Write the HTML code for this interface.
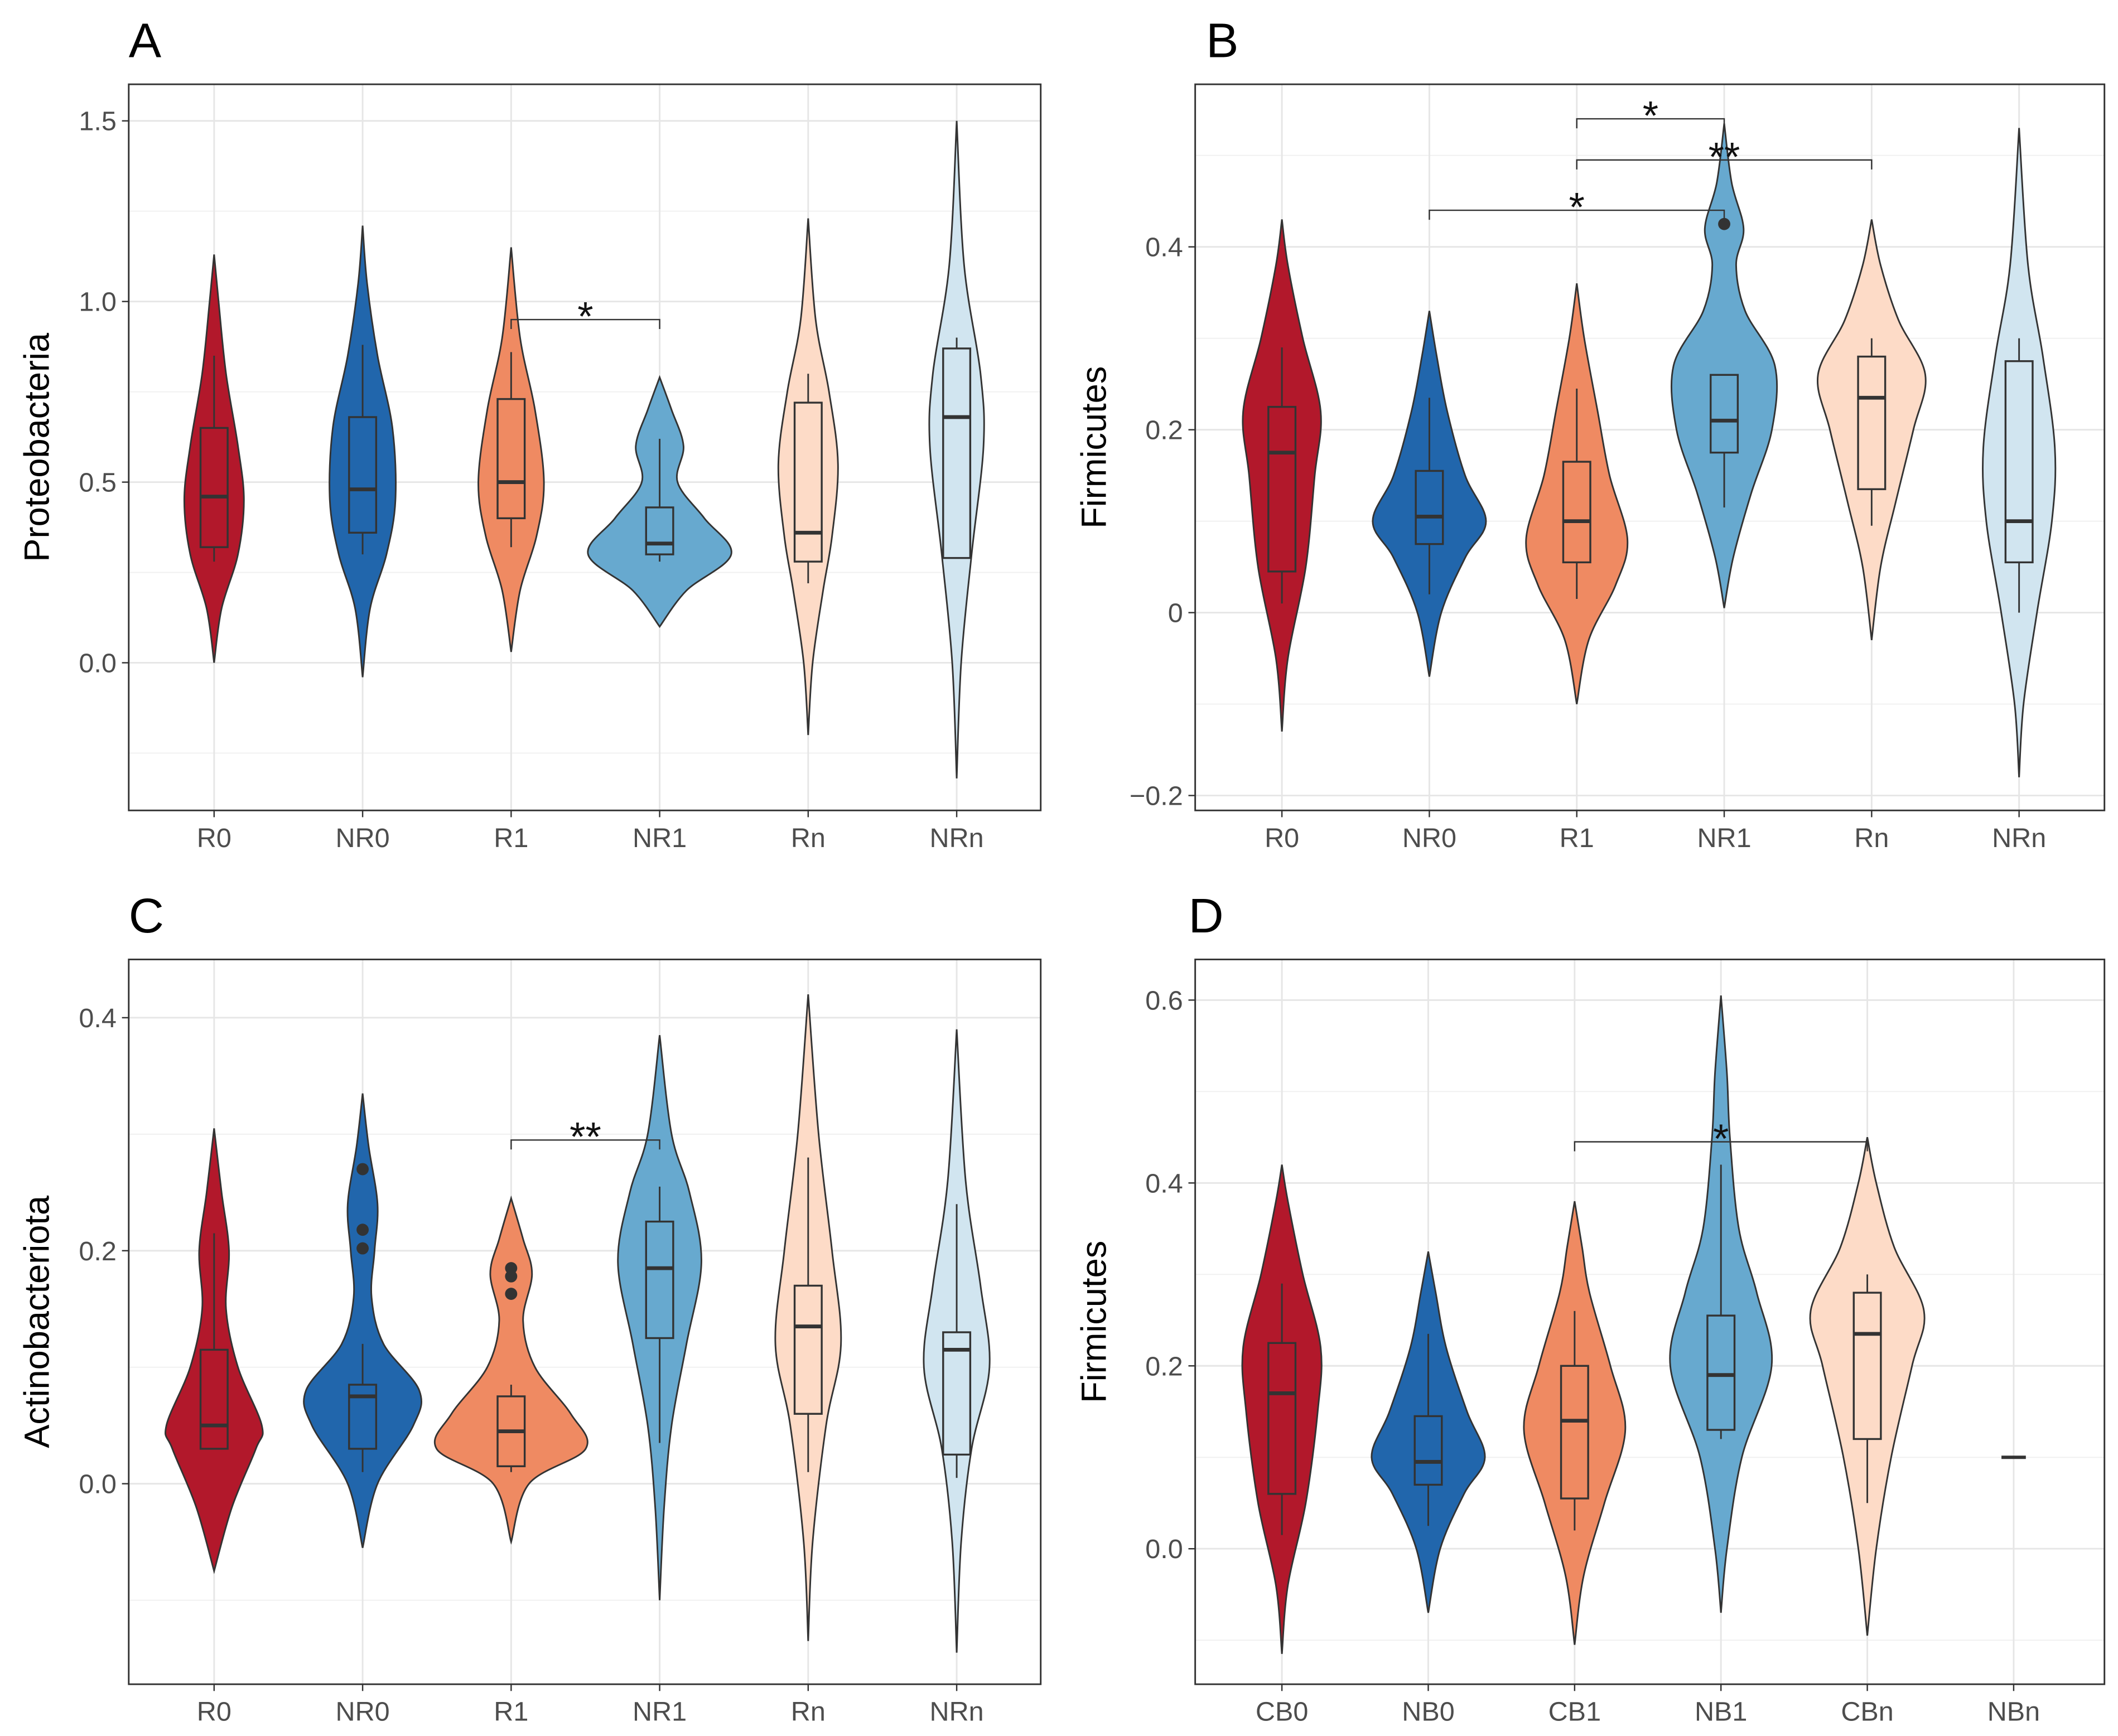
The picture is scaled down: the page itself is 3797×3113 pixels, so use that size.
<!DOCTYPE html>
<html><head><meta charset="utf-8"><style>
html,body{margin:0;padding:0;background:#fff}
svg{display:block}
text{font-family:"Liberation Sans",Arial,sans-serif}
</style></head><body>
<svg id="chart" width="3797" height="3113" viewBox="0 0 1563 1281" xmlns="http://www.w3.org/2000/svg"></svg>
<script>
// ---------- data ----------
const catsRNR = ["R0","NR0","R1","NR1","Rn","NRn"];
const catsCB = ["CB0","NB0","CB1","NB1","CBn","NBn"];
const colors = ["#B2182B","#2166AC","#EF8A62","#67A9CF","#FDDBC7","#D1E5F0"];

// violin profiles: [value, half-width(px)]
const violinsA = [
 [[-0.0,0],[0.15,5],[0.3,16],[0.45,20],[0.6,16],[0.8,8],[1.0,3],[1.13,0]],
 [[-0.04,0],[0.15,5],[0.3,16],[0.45,22],[0.65,20],[0.85,10],[1.05,3],[1.21,0]],
 [[0.03,0],[0.2,6],[0.35,17],[0.5,22],[0.7,16],[0.9,6],[1.15,0]],
 [[0.1,0],[0.2,18],[0.3,48],[0.4,30],[0.5,12],[0.6,16],[0.7,8],[0.79,0]],
 [[-0.2,0],[0,3],[0.2,10],[0.35,16],[0.55,20],[0.75,14],[0.95,5],[1.23,0]],
 [[-0.32,0],[0,3],[0.3,10],[0.6,18],[0.8,16],[1.1,5],[1.5,0]]
];
const boxesA = [[0.28,0.32,0.46,0.65,0.85],[0.3,0.36,0.48,0.68,0.88],[0.32,0.4,0.5,0.73,0.86],[0.28,0.3,0.33,0.43,0.62],[0.22,0.28,0.36,0.72,0.8],[0.29,0.29,0.68,0.87,0.9]];
const outliersA = [[],[],[],[],[],[]];

const violinsB = [
 [[-0.13,0],[-0.05,4],[0.05,16],[0.15,22],[0.22,26],[0.3,14],[0.38,4],[0.43,0]],
 [[-0.07,0],[0,8],[0.06,24],[0.1,38],[0.15,24],[0.22,12],[0.28,5],[0.33,0]],
 [[-0.1,0],[-0.03,8],[0.03,26],[0.08,34],[0.15,22],[0.22,14],[0.3,5],[0.36,0]],
 [[0.005,0],[0.06,6],[0.13,18],[0.2,32],[0.27,34],[0.33,14],[0.38,8],[0.42,13],[0.47,5],[0.535,0]],
 [[-0.03,0],[0.05,6],[0.12,16],[0.2,28],[0.26,36],[0.32,18],[0.38,6],[0.43,0]],
 [[-0.18,0],[-0.1,3],[0,12],[0.1,22],[0.18,24],[0.28,16],[0.38,6],[0.53,0]]
];
const boxesB = [[0.01,0.045,0.175,0.225,0.29],[0.02,0.075,0.105,0.155,0.235],[0.015,0.055,0.1,0.165,0.245],[0.115,0.175,0.21,0.26,0.26],[0.095,0.135,0.235,0.28,0.3],[0,0.055,0.1,0.275,0.3]];
const outliersB = [[],[],[],[0.425],[],[]];

const violinsC = [
 [[-0.075,0],[-0.02,12],[0.03,28],[0.05,32],[0.1,16],[0.15,8],[0.2,10],[0.25,5],[0.305,0]],
 [[-0.055,0],[0,10],[0.05,34],[0.08,38],[0.12,14],[0.16,6],[0.2,8],[0.24,10],[0.29,4],[0.335,0]],
 [[-0.05,0],[0,12],[0.03,50],[0.06,40],[0.1,16],[0.14,8],[0.18,14],[0.21,8],[0.245,0]],
 [[-0.1,0],[-0.02,3],[0.05,8],[0.12,18],[0.19,28],[0.25,20],[0.3,8],[0.385,0]],
 [[-0.135,0],[-0.05,3],[0.05,12],[0.12,22],[0.2,16],[0.3,7],[0.42,0]],
 [[-0.145,0],[-0.05,3],[0.03,10],[0.1,22],[0.17,16],[0.26,6],[0.39,0]]
];
const boxesC = [[0.03,0.03,0.05,0.115,0.215],[0.01,0.03,0.075,0.085,0.12],[0.01,0.015,0.045,0.075,0.085],[0.035,0.125,0.185,0.225,0.255],[0.01,0.06,0.135,0.17,0.28],[0.005,0.025,0.115,0.13,0.24]];
const outliersC = [[],[0.27,0.218,0.202],[0.185,0.178,0.163],[],[],[]];

const violinsD = [
 [[-0.115,0],[-0.04,4],[0.05,16],[0.15,24],[0.22,26],[0.3,14],[0.38,4],[0.42,0]],
 [[-0.07,0],[0,8],[0.06,24],[0.1,38],[0.15,26],[0.22,12],[0.28,5],[0.325,0]],
 [[-0.105,0],[-0.03,6],[0.05,20],[0.13,34],[0.2,24],[0.28,10],[0.33,5],[0.38,0]],
 [[-0.07,0],[0,4],[0.1,14],[0.2,34],[0.28,24],[0.35,12],[0.45,6],[0.52,4],[0.605,0]],
 [[-0.095,0],[0,6],[0.1,16],[0.2,30],[0.26,38],[0.33,18],[0.4,6],[0.45,0]],
 null
];
const boxesD = [[0.015,0.06,0.17,0.225,0.29],[0.025,0.07,0.095,0.145,0.235],[0.02,0.055,0.14,0.2,0.26],[0.12,0.13,0.19,0.255,0.42],[0.05,0.12,0.235,0.28,0.3],[0.1,0.1,0.1,0.1,0.1]];
const outliersD = [[],[],[],[],[],[]];

// brackets: [fromIdx, toIdx, value, label]
const sigA = [[2,3,0.95,"*"]];
const sigB = [[2,3,0.54,"*"],[2,4,0.495,"**"],[1,3,0.44,"*"]];
const sigC = [[2,3,0.295,"**"]];
const sigD = [[2,4,0.445,"*"]];

const ticksA = [0,0.5,1.0,1.5], tickLabA=["0.0","0.5","1.0","1.5"];
const ticksB = [-0.2,0,0.2,0.4], tickLabB=["\u22120.2","0","0.2","0.4"];
const ticksC = [0,0.2,0.4], tickLabC=["0.0","0.2","0.4"];
const ticksD = [0,0.2,0.4,0.6], tickLabD=["0.0","0.2","0.4","0.6"];

// ---------- drawing ----------
const NS="http://www.w3.org/2000/svg";
const svg=document.getElementById('chart');
const WSCALE=1.1;
function mk(tag,attrs,parent){const e=document.createElementNS(NS,tag);for(const k in attrs)e.setAttribute(k,attrs[k]);(parent||svg).appendChild(e);return e;}

function smoothSide(pts){
  let d="";
  for(let i=0;i<pts.length-1;i++){
    const p0=pts[i-1]||pts[i],p1=pts[i],p2=pts[i+1],p3=pts[i+2]||pts[i+1];
    const c1=[p1[0]+(p2[0]-p0[0])/6,p1[1]+(p2[1]-p0[1])/6];
    const c2=[p2[0]-(p3[0]-p1[0])/6,p2[1]-(p3[1]-p1[1])/6];
    d+=` C${c1[0]},${c1[1]} ${c2[0]},${c2[1]} ${p2[0]},${p2[1]}`;
  }
  return d;
}

function panel(cfg){
  const g=mk('g',{});
  
  
  const {x0,x1,y0,y1}=cfg;
  const ys=v=>cfg.yRef[0]+(v-cfg.vRef[0])*(cfg.yRef[1]-cfg.yRef[0])/(cfg.vRef[1]-cfg.vRef[0]);
  const xs=i=>cfg.xFirst+i*(cfg.xLast-cfg.xFirst)/5;
  mk('rect',{x:x0,y:y0,width:x1-x0,height:y1-y0,fill:'#fff'},g);
  const step=cfg.ticks[1]-cfg.ticks[0];
  for(let v=cfg.ticks[0]-step*3;v<=cfg.ticks[cfg.ticks.length-1]+step*3;v+=step){
    const yy=ys(v+step/2); if(yy>y0&&yy<y1){mk('line',{x1:x0,x2:x1,y1:yy,y2:yy,stroke:'#f0f0f0','stroke-width':0.8},g);}
  }
  cfg.ticks.forEach((v,i)=>{const yy=ys(v);
    const l=mk('line',{x1:x0,x2:x1,y1:yy,y2:yy,stroke:'#e6e6e6','stroke-width':1.2},g);
    
    mk('line',{x1:x0-5,x2:x0,y1:yy,y2:yy,stroke:'#333','stroke-width':1},g);
    const t=mk('text',{x:x0-9,y:yy+7,'text-anchor':'end','font-size':20,fill:'#4d4d4d'},g);
    t.textContent=cfg.tickLab[i];
    
  });
  cfg.cats.forEach((c,i)=>{const xx=xs(i);
    mk('line',{x1:xx,x2:xx,y1:y0,y2:y1,stroke:'#e6e6e6','stroke-width':1.2},g);
    mk('line',{x1:xx,x2:xx,y1:y1,y2:y1+5,stroke:'#333','stroke-width':1},g);
    const t=mk('text',{x:xx,y:y1+27,'text-anchor':'middle','font-size':20,fill:'#4d4d4d'},g);
    t.textContent=c;
    
  });
  cfg.violins.forEach((prof,i)=>{
    const cx=xs(i);
    if(prof){
      const right=prof.map(p=>[cx+p[1]*WSCALE,ys(p[0])]);
      const left=prof.slice().reverse().map(p=>[cx-p[1]*WSCALE,ys(p[0])]);
      let d=`M${right[0][0]},${right[0][1]}`+smoothSide(right)+smoothSide(left)+'Z';
      const p=mk('path',{d:d,fill:colors[i],stroke:'#333','stroke-width':1.2},g);
      
      
    }
    const b=cfg.boxes[i];
    if(b[0]===b[4]){
      const l=mk('line',{x1:cx-9,x2:cx+9,y1:ys(b[2]),y2:ys(b[2]),stroke:'#333','stroke-width':2.5},g);
      
      return;
    }
    const bg=mk('g',{},g);
    
    
    mk('line',{x1:cx,x2:cx,y1:ys(b[0]),y2:ys(b[1]),stroke:'#333','stroke-width':1.2},bg);
    mk('line',{x1:cx,x2:cx,y1:ys(b[3]),y2:ys(b[4]),stroke:'#333','stroke-width':1.2},bg);
    mk('rect',{x:cx-10,y:ys(b[3]),width:20,height:ys(b[1])-ys(b[3]),fill:colors[i],stroke:'#333','stroke-width':1.4},bg);
    mk('line',{x1:cx-10,x2:cx+10,y1:ys(b[2]),y2:ys(b[2]),stroke:'#333','stroke-width':2.8},bg);
    cfg.outliers[i].forEach(o=>{const c=mk('circle',{cx:cx,cy:ys(o),r:4.5,fill:'#333'},bg);
      });
  });
  cfg.sig.forEach(s=>{
    const xa=xs(s[0]),xb=xs(s[1]),yy=ys(s[2]);
    const sg=mk('g',{},g);
    
    
    mk('path',{d:`M${xa},${yy+7} V${yy} H${xb} V${yy+7}`,fill:'none',stroke:'#333','stroke-width':1},sg);
    const t=mk('text',{x:(xa+xb)/2,y:yy+8,'text-anchor':'middle','font-size':30,fill:'#111'},sg);
    t.textContent=s[3];
  });
  mk('rect',{x:x0,y:y0,width:x1-x0,height:y1-y0,fill:'none',stroke:'#333','stroke-width':1.2},g);
  const yt=mk('text',{x:0,y:0,'text-anchor':'middle','font-size':26,fill:'#000',transform:`translate(${cfg.titleX},${(y0+y1)/2}) rotate(-90)`},g);
  yt.textContent=cfg.title;
  
  const lt=mk('text',{x:cfg.letterX,y:y0-20,'font-size':36,fill:'#000'},g);
  lt.textContent=cfg.letter;
  
}

panel({name:'panel-a',letter:'A',letterX:95,title:'Proteobacteria',titleX:36,x0:95,x1:768,y0:62,y1:598,
  vRef:[0,1.5],yRef:[489,89],xFirst:158,xLast:706,cats:catsRNR,ticks:ticksA,tickLab:tickLabA,
  violins:violinsA,boxes:boxesA,outliers:outliersA,sig:sigA});
panel({name:'panel-b',letter:'B',letterX:890,title:'Firmicutes',titleX:816,x0:882,x1:1553,y0:62,y1:598,
  vRef:[-0.2,0.4],yRef:[587,182],xFirst:946,xLast:1490,cats:catsRNR,ticks:ticksB,tickLab:tickLabB,
  violins:violinsB,boxes:boxesB,outliers:outliersB,sig:sigB});
panel({name:'panel-c',letter:'C',letterX:95,title:'Actinobacteriota',titleX:36,x0:95,x1:768,y0:708,y1:1243,
  vRef:[0,0.4],yRef:[1095,751],xFirst:158,xLast:706,cats:catsRNR,ticks:ticksC,tickLab:tickLabC,
  violins:violinsC,boxes:boxesC,outliers:outliersC,sig:sigC});
panel({name:'panel-d',letter:'D',letterX:877,title:'Firmicutes',titleX:816,x0:882,x1:1553,y0:708,y1:1243,
  vRef:[0,0.6],yRef:[1143,738],xFirst:946,xLast:1486,cats:catsCB,ticks:ticksD,tickLab:tickLabD,
  violins:violinsD,boxes:boxesD,outliers:outliersD,sig:sigD});
</script>
</body></html>
